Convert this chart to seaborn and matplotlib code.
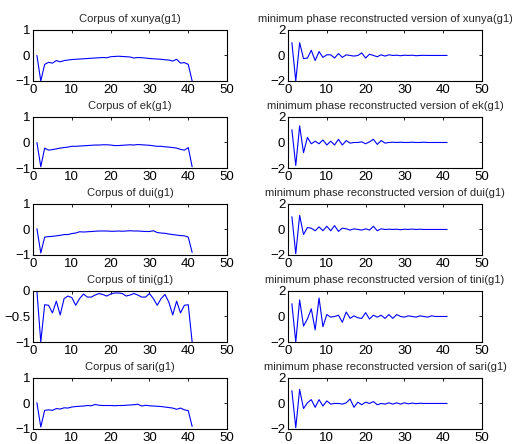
import numpy as np
import pandas as pd
import seaborn as sns
import matplotlib
matplotlib.use("Agg")
import matplotlib.pyplot as plt

sns.set_style("white")
plt.rcParams['font.family'] = ['Liberation Sans', 'DejaVu Sans']

# Data (41 samples each)
n = np.arange(1, 42)
words = ["xunya", "ek", "dui", "tini", "sari"]

corpus_xunya = [0, -1, -0.35, -0.27, -0.3, -0.2, -0.25, -0.2, -0.18, -0.16, -0.15, -0.14, -0.13, -0.12,
                -0.11, -0.1, -0.09, -0.08, -0.09, -0.05, -0.04, -0.03, -0.04, -0.05, -0.06, -0.1, -0.08,
                -0.09, -0.1, -0.12, -0.13, -0.14, -0.15, -0.17, -0.18, -0.22, -0.15, -0.3, -0.28, -0.35, -1]
corpus_ek = [0, -0.95, -0.22, -0.3, -0.28, -0.25, -0.22, -0.2, -0.18, -0.15, -0.15, -0.14, -0.13, -0.12,
             -0.11, -0.1, -0.1, -0.09, -0.09, -0.1, -0.12, -0.12, -0.11, -0.1, -0.09, -0.1, -0.08, -0.09,
             -0.1, -0.11, -0.13, -0.15, -0.15, -0.17, -0.18, -0.2, -0.22, -0.27, -0.3, -0.2, -0.95]
corpus_dui = [0.03, -0.92, -0.3, -0.28, -0.27, -0.25, -0.23, -0.2, -0.2, -0.16, -0.14, -0.09, -0.1, -0.09,
              -0.08, -0.07, -0.06, -0.06, -0.06, -0.07, -0.07, -0.06, -0.07, -0.06, -0.05, -0.06, -0.06,
              -0.07, -0.08, -0.08, -0.05, -0.12, -0.14, -0.15, -0.18, -0.2, -0.22, -0.24, -0.25, -0.3, -0.9]
corpus_tini = [0, -1, -0.27, -0.28, -0.43, -0.2, -0.47, -0.15, -0.1, -0.13, -0.28, -0.15, -0.06, -0.12,
               -0.12, -0.08, -0.05, -0.07, -0.1, -0.06, -0.04, -0.04, -0.05, -0.1, -0.08, -0.05, -0.08,
               -0.12, -0.12, -0.05, -0.15, -0.28, -0.15, -0.07, -0.22, -0.47, -0.2, -0.43, -0.28, -0.27, -1]
corpus_sari = [0.03, -0.92, -0.27, -0.25, -0.27, -0.2, -0.22, -0.17, -0.18, -0.14, -0.12, -0.11, -0.1,
               -0.08, -0.09, -0.04, -0.07, -0.08, -0.08, -0.08, -0.09, -0.08, -0.08, -0.07, -0.06, -0.05,
               -0.03, -0.1, -0.07, -0.09, -0.1, -0.11, -0.12, -0.14, -0.16, -0.18, -0.23, -0.18, -0.25, -0.28, -0.9]

recon_xunya = [1.0, -2.0, 1.0, -0.25, -0.2, 0.4, -0.4, 0.3, -0.15, 0.05, 0.05, -0.2, 0.15, -0.15, 0.05,
               0.0, -0.05, 0.0, 0.2, -0.2, 0.1, 0.0, -0.1, 0.05, -0.05, 0.05, 0.0, 0.02, -0.02, 0.02, 0.0,
               0.02, -0.02, 0.0, 0.01, 0.0, 0.0, 0.0, 0.0, 0.0, 0.0]
recon_ek = [1.0, -1.8, 1.3, -0.8, 0.4, -0.1, 0.1, -0.1, 0.2, -0.2, 0.1, -0.2, 0.25, -0.2, 0.15, -0.05,
            0.0, 0.0, 0.05, -0.1, 0.05, 0.25, -0.15, 0.15, -0.05, 0.0, 0.02, 0.0, 0.02, 0.0, 0.0, 0.02,
            0.0, 0.0, 0.02, 0.0, 0.0, 0.0, 0.0, 0.0, 0.0]
recon_dui = [1.0, -1.9, 1.1, -0.4, 0.15, 0.1, -0.1, 0.2, -0.1, 0.25, -0.1, 0.3, -0.15, 0.1, 0.05, -0.05,
             0.05, 0.0, -0.05, 0.05, -0.05, 0.25, -0.1, 0.05, 0.0, 0.02, 0.0, 0.02, -0.02, 0.02, 0.0,
             0.03, 0.0, 0.02, 0.0, 0.0, 0.0, 0.0, 0.0, 0.0, 0.0]
recon_tini = [1.0, -2.0, 1.3, -0.75, -0.2, 0.6, -1.05, 1.45, -0.8, 0.15, -0.05, 0.0, 0.1, -0.45, 0.35,
              -0.15, 0.05, -0.1, -0.15, 0.3, -0.2, 0.1, -0.05, 0.1, -0.15, 0.15, -0.15, 0.15, 0.0, -0.05,
              0.05, 0.0, -0.05, 0.05, 0.0, -0.05, 0.05, 0.0, 0.0, 0.0, 0.0]
recon_sari = [1.0, -1.9, 1.1, -0.4, 0.05, 0.3, -0.3, 0.3, -0.2, 0.2, -0.05, 0.0, 0.0, -0.05, 0.05, 0.35,
              -0.3, 0.1, -0.1, 0.1, 0.0, 0.15, -0.1, 0.0, -0.05, 0.05, -0.05, 0.05, -0.05, 0.05, -0.03,
              0.03, -0.02, 0.02, 0.0, 0.0, 0.0, 0.0, 0.0, 0.0, 0.0]

corpus = [corpus_xunya, corpus_ek, corpus_dui, corpus_tini, corpus_sari]
recon = [recon_xunya, recon_ek, recon_dui, recon_tini, recon_sari]

fig = plt.figure(figsize=(5.12, 4.44), dpi=100)
bottoms = [0.8176, 0.6216, 0.4257, 0.2297, 0.0338]
w, h = 0.379, 0.115


def style(ax, ylim, yticks, yticklabels, title):
    ax.set_xlim(0, 50)
    ax.set_ylim(*ylim)
    ax.set_xticks([0, 10, 20, 30, 40, 50])
    ax.set_yticks(yticks)
    ax.set_yticklabels(yticklabels)
    ax.tick_params(direction='in', top=True, right=True, length=2.5, width=0.6,
                   labelsize=9.5, pad=2, colors='black')
    for s in ax.spines.values():
        s.set_visible(True)
        s.set_color('black')
        s.set_linewidth(0.8)
    ax.set_xlabel('')
    ax.set_ylabel('')
    ax.set_title(title, fontsize=8, pad=5.5)


for i, word in enumerate(words):
    axl = fig.add_axes([0.0645, bottoms[i], w, h])
    sns.lineplot(x=n, y=corpus[i], ax=axl, color='blue', linewidth=0.8)
    if word == "tini":
        style(axl, (-1, 0), [-1, -0.5, 0], ['\u22121', '\u22120.5', '0'], f"Corpus of {word}(g1)")
    else:
        style(axl, (-1, 1), [-1, 0, 1], ['\u22121', '0', '1'], f"Corpus of {word}(g1)")

    axr = fig.add_axes([0.5625, bottoms[i], w, h])
    sns.lineplot(x=n, y=recon[i], ax=axr, color='blue', linewidth=0.8)
    style(axr, (-2, 2), [-2, 0, 2], ['\u22122', '0', '2'],
          f"minimum phase reconstructed version of {word}(g1)")

fig.savefig("out.png", dpi=100)
